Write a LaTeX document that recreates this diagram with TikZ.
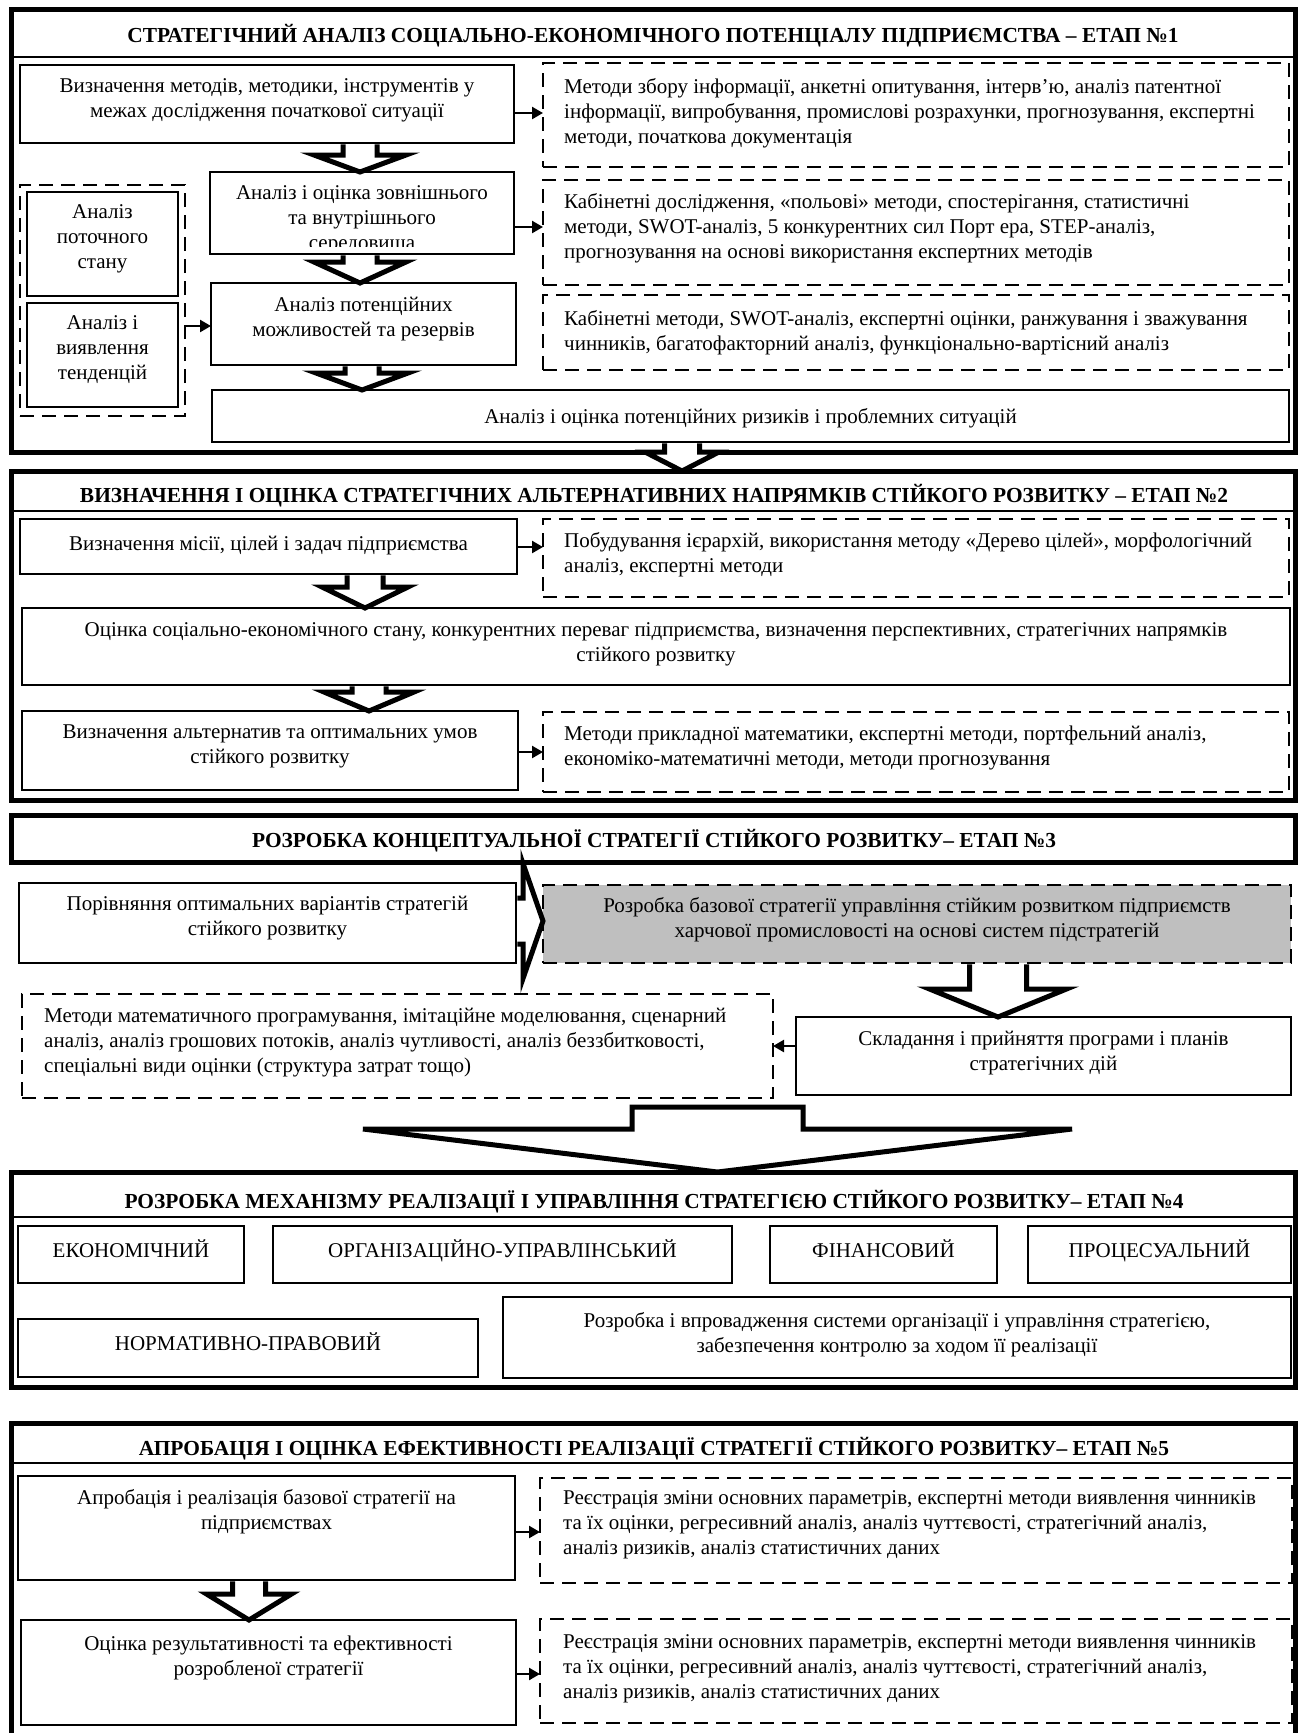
\documentclass[tikz,border=0pt]{standalone}
\usepackage{fontspec}
\setmainfont{Liberation Serif}
\usetikzlibrary{arrows.meta,fit,calc}

% hollow block arrow pointing down: #1 source point, #2 target point,
% #3 axis x, #4 shaft half width, #5 head half width, #6 head length
\newcommand\vblock[6]{%
  \draw[blockarrow] let \p1=#1, \p2=#2 in
    ({#3pt-#4pt},{\y1-1.4pt}) -- ({#3pt-#4pt},{\y2+#6pt}) -- ({#3pt-#5pt},{\y2+#6pt})
    -- (#3pt,\y2) -- ({#3pt+#5pt},{\y2+#6pt}) -- ({#3pt+#4pt},{\y2+#6pt})
    -- ({#3pt+#4pt},{\y1-1.4pt});
}
% hollow block arrow pointing right: #3 axis y (downward), others as above
\newcommand\hblock[6]{%
  \draw[blockarrow] let \p1=#1, \p2=#2 in
    ({\x1+1.4pt},{-#3pt+#4pt}) -- ({\x2-#6pt},{-#3pt+#4pt}) -- ({\x2-#6pt},{-#3pt+#5pt})
    -- (\x2,-#3pt) -- ({\x2-#6pt},{-#3pt-#5pt}) -- ({\x2-#6pt},{-#3pt-#4pt})
    -- ({\x1+1.4pt},{-#3pt-#4pt});
}

\begin{document}
\begin{tikzpicture}[x=1pt,y=-1pt,
  frame/.style={draw, line width=5pt, inner sep=0pt, outer sep=0pt},
  box/.style={draw, line width=2.8pt, inner sep=0pt, outer sep=0pt},
  dbox/.style={draw, line width=2.6pt, dash pattern=on 14pt off 8pt, inner sep=0pt, outer sep=0pt},
  txt/.style={font=\fontsize{21}{25}\selectfont, inner sep=0pt, align=center,
              anchor=north, yshift=17.5pt, execute at begin node=\strut},
  ltxt/.style={txt, align=left, anchor=north west},
  ttl/.style={font=\fontsize{21.4}{25}\selectfont\bfseries, inner sep=0pt, anchor=base},
  divider/.style={line width=2pt},
  arr/.style={line width=2.4pt, -{Triangle[length=11pt,width=12pt]}},
  blockarrow/.style={draw, fill=white, line width=5pt, line join=miter}]

\fill[white] (0,0) rectangle (1303,1733);
\useasboundingbox (0,0) rectangle (1303,1733);

% ---------------- Stage 1 ----------------
\node[frame, fit={(11,9) (1295,452)}] (S1) {};
\draw[divider] (S1.west |- 0,57) -- (S1.east |- 0,57);
\node[ttl] (S1-t) at (653,42) {СТРАТЕГІЧНИЙ АНАЛІЗ СОЦІАЛЬНО-ЕКОНОМІЧНОГО ПОТЕНЦІАЛУ ПІДПРИЄМСТВА – ЕТАП №1};

\node[box, fit={(20,65) (514,143)}] (A) {};
\node[txt] (A-t) at (A.center |- 0,96) {Визначення методів, методики, інструментів у\\межах дослідження початкової ситуації};
\node[dbox, fit={(543,63) (1289,167)}] (D1) {};
\node[ltxt] (D1-t) at (564,96) {Методи збору інформації, анкетні опитування, інтерв’ю, аналіз патентної\\інформації, випробування, промислові розрахунки, прогнозування, експертні\\методи, початкова документація};

\node[box, fit={(210,172) (514,254)}] (B) {};
\begin{scope}
  \clip (212,174) rectangle (512,246);
  \node[txt] (B-t) at (B.center |- 0,203) {Аналіз і оцінка зовнішнього\\та внутрішнього\\середовища};
\end{scope}
\node[dbox, fit={(543,180) (1289,285)}] (D2) {};
\node[ltxt] (D2-t) at (564,211) {Кабінетні дослідження, «польові» методи, спостерігання, статистичні\\методи, SWOT-аналіз, 5 конкурентних сил Порт ера, STEP-аналіз,\\прогнозування на основі використання експертних методів};

\node[box, fit={(211,283) (516,365)}] (C) {};
\node[txt] (C-t) at (C.center |- 0,314) {Аналіз потенційних\\можливостей та резервів};
\node[dbox, fit={(543,295) (1289,370)}] (D3) {};
\node[ltxt] (D3-t) at (564,328) {Кабінетні методи, SWOT-аналіз, експертні оцінки, ранжування і зважування\\чинників, багатофакторний аналіз, функціонально-вартісний аналіз};

\node[box, fit={(212,390) (1289,442)}] (E) {};
\node[txt] (E-t) at (E.center |- 0,423) {Аналіз і оцінка потенційних ризиків і проблемних ситуацій};

\node[dbox, fit={(20,185) (185,416)}] (Grp) {};
\node[box, fit={(27,192) (178,296)}] (L1) {};
\node[txt] (L1-t) at (L1.center |- 0,222) {Аналіз\\поточного\\стану};
\node[box, fit={(27,303) (178,407)}] (L2) {};
\node[txt] (L2-t) at (L2.center |- 0,333) {Аналіз і\\виявлення\\тенденцій};

% ---------------- Stage 2 ----------------
\node[frame, fit={(11,471) (1295,800)}] (S2) {};
\draw[divider] (S2.west |- 0,511) -- (S2.east |- 0,511);
\node[ttl] (S2-t) at (654,502) {ВИЗНАЧЕННЯ І ОЦІНКА СТРАТЕГІЧНИХ АЛЬТЕРНАТИВНИХ НАПРЯМКІВ СТІЙКОГО РОЗВИТКУ – ЕТАП №2};

\node[box, fit={(20,519) (517,574)}] (F) {};
\node[txt] (F-t) at (F.center |- 0,550) {Визначення місії, цілей і задач підприємства};
\node[dbox, fit={(543,519) (1289,597)}] (D4) {};
\node[ltxt] (D4-t) at (564,550) {Побудування ієрархій, використання методу «Дерево цілей», морфологічний\\аналіз, експертні методи};

\node[box, fit={(22,608) (1290,685)}] (G) {};
\node[txt] (G-t) at (G.center |- 0,640) {Оцінка соціально-економічного стану, конкурентних переваг підприємства, визначення перспективних, стратегічних напрямків\\стійкого розвитку};

\node[box, fit={(22,711) (518,790)}] (H) {};
\node[txt] (H-t) at (H.center |- 0,742) {Визначення альтернатив та оптимальних умов\\стійкого розвитку};
\node[dbox, fit={(543,712) (1289,792)}] (D5) {};
\node[ltxt] (D5-t) at (564,743) {Методи прикладної математики, експертні методи, портфельний аналіз,\\економіко-математичні методи, методи прогнозування};

% ---------------- Stage 3 ----------------
\node[frame, fit={(11,815) (1295,862)}] (S3) {};
\node[ttl] (S3-t) at (654,847) {РОЗРОБКА КОНЦЕПТУАЛЬНОЇ СТРАТЕГІЇ СТІЙКОГО РОЗВИТКУ– ЕТАП №3};

\node[box, fit={(19,883) (516,963)}] (I) {};
\node[txt] (I-t) at (I.center |- 0,913) {Порівняння оптимальних варіантів стратегій\\стійкого розвитку};
\node[dbox, fill=gray!50, fit={(543,885) (1291,963)}] (J) {};
\node[txt] (J-t) at (J.center |- 0,915) {Розробка базової стратегії управління стійким розвитком підприємств\\харчової промисловості на основі систем підстратегій};

\node[dbox, fit={(22,994) (773,1098)}] (K) {};
\node[ltxt] (K-t) at (44,1025) {Методи математичного програмування, імітаційне моделювання, сценарний\\аналіз, аналіз грошових потоків, аналіз чутливості, аналіз беззбитковості,\\спеціальні види оцінки (структура затрат тощо)};
\node[box, fit={(796,1017) (1291,1095)}] (L) {};
\node[txt] (L-t) at (L.center |- 0,1048) {Складання і прийняття програми і планів\\стратегічних дій};
\coordinate (S3o) at (718,1107);

% ---------------- Stage 4 ----------------
\node[frame, fit={(11,1172) (1295,1387)}] (S4) {};
\draw[divider] (S4.west |- 0,1217) -- (S4.east |- 0,1217);
\node[ttl] (S4-t) at (654,1208) {РОЗРОБКА МЕХАНІЗМУ РЕАЛІЗАЦІЇ І УПРАВЛІННЯ СТРАТЕГІЄЮ СТІЙКОГО РОЗВИТКУ– ЕТАП №4};

\node[box, fit={(18,1226) (244,1283)}] (M1) {};
\node[txt] (M1-t) at (M1.center |- 0,1257) {ЕКОНОМІЧНИЙ};
\node[box, fit={(273,1226) (732,1283)}] (M2) {};
\node[txt] (M2-t) at (M2.center |- 0,1257) {ОРГАНІЗАЦІЙНО-УПРАВЛІНСЬКИЙ};
\node[box, fit={(770,1226) (997,1283)}] (M3) {};
\node[txt] (M3-t) at (M3.center |- 0,1257) {ФІНАНСОВИЙ};
\node[box, fit={(1028,1226) (1291,1283)}] (M4) {};
\node[txt] (M4-t) at (M4.center |- 0,1257) {ПРОЦЕСУАЛЬНИЙ};
\node[box, fit={(18,1319) (478,1377)}] (M5) {};
\node[txt] (M5-t) at (M5.center |- 0,1350) {НОРМАТИВНО-ПРАВОВИЙ};
\node[box, fit={(503,1297) (1291,1378)}] (M6) {};
\node[txt] (M6-t) at (M6.center |- 0,1330) {Розробка і впровадження системи організації і управління стратегією,\\забезпечення контролю за ходом її реалізації};

% ---------------- Stage 5 ----------------
\node[frame, fit={(11,1423) (1295,1760)}] (S5) {};
\draw[divider] (S5.west |- 0,1463) -- (S5.east |- 0,1463);
\node[ttl] (S5-t) at (654,1455) {АПРОБАЦІЯ І ОЦІНКА ЕФЕКТИВНОСТІ РЕАЛІЗАЦІЇ СТРАТЕГІЇ СТІЙКОГО РОЗВИТКУ– ЕТАП №5};

\node[box, fit={(18,1476) (515,1580)}] (P) {};
\node[txt] (P-t) at (P.center |- 0,1507) {Апробація і реалізація базової стратегії на\\підприємствах};
\node[dbox, fit={(540,1478) (1292,1583)}] (D6) {};
\node[ltxt] (D6-t) at (563,1508) {Реєстрація зміни основних параметрів, експертні методи виявлення чинників\\та їх оцінки, регресивний аналіз, аналіз чуттєвості, стратегічний аналіз,\\аналіз ризиків, аналіз статистичних даних};

\node[box, fit={(21,1620) (516,1725)}] (Q) {};
\node[txt] (Q-t) at (Q.center |- 0,1653) {Оцінка результативності та ефективності\\розробленої стратегії};
\node[dbox, fit={(540,1619) (1292,1723)}] (D7) {};
\node[ltxt] (D7-t) at (563,1652) {Реєстрація зміни основних параметрів, експертні методи виявлення чинників\\та їх оцінки, регресивний аналіз, аналіз чуттєвості, стратегічний аналіз,\\аналіз ризиків, аналіз статистичних даних};

% ---------------- thin arrows ----------------
\draw[arr] (A.east |- 0,113) -- (D1.west |- 0,113);
\draw[arr] (B.east |- 0,227) -- (D2.west |- 0,227);
\draw[arr] (Grp.east |- 0,326) -- (C.west |- 0,326);
\draw[arr] (F.east |- 0,547) -- (D4.west |- 0,547);
\draw[arr] (H.east |- 0,752) -- (D5.west |- 0,752);
\draw[arr] (L.west |- 0,1046) -- (K.east |- 0,1046);
\draw[arr] (P.east |- 0,1532) -- (D6.west |- 0,1532);
\draw[arr] (Q.east |- 0,1674) -- (D7.west |- 0,1674);

% ---------------- block arrows ----------------
\vblock{(A.south)}{(B.north)}{360}{17}{46}{17}
\vblock{(B.south)}{(C.north)}{360}{17}{46}{21}
\vblock{(C.south)}{(E.north)}{362}{17}{46}{17}
\vblock{(E.south)}{(S2.north)}{682}{17.5}{37}{19}
\vblock{(F.south)}{(G.north)}{365}{18}{43}{21}
\vblock{(G.south)}{(H.north)}{369}{17}{45}{19}
\hblock{(I.east)}{(J.west)}{921}{23}{57.5}{20}
\vblock{(J.south)}{(L.north)}{998}{28.5}{68.5}{28}
\vblock{(P.south)}{(Q.north)}{249}{16.5}{42.5}{26}
\draw[blockarrow] let \p1=(S3o), \p2=(S4.north) in
  ({717.5pt-85.5pt},\y1) -- ({717.5pt-85.5pt},{\y2+43pt}) -- ({717.5pt-354.5pt},{\y2+43pt})
  -- (717.5pt,\y2) -- ({717.5pt+354.5pt},{\y2+43pt}) -- ({717.5pt+85.5pt},{\y2+43pt})
  -- ({717.5pt+85.5pt},\y1) -- cycle;
\end{tikzpicture}
\end{document}
